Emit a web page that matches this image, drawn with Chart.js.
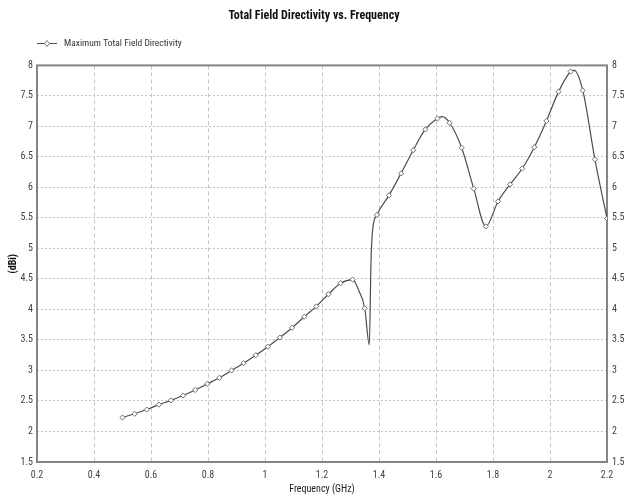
<!DOCTYPE html>
<html>
<head>
<meta charset="utf-8">
<script src="https://cdn.jsdelivr.net/npm/chart.js@4/dist/chart.umd.min.js"></script>
<style>
  html, body { margin: 0; padding: 0; background: #fff; }
  #wrap { width: 628px; height: 496px; position: relative; }
</style>
</head>
<body>
<div id="wrap"><canvas id="chart" width="628" height="496"></canvas></div>
<script>
const chartTitle = 'Total Field Directivity vs. Frequency';
const seriesName = 'Maximum Total Field Directivity';
const xTitle = 'Frequency (GHz)';
const yTitle = '(dBi)';

const xTicks = [0.2, 0.4, 0.6, 0.8, 1, 1.2, 1.4, 1.6, 1.8, 2, 2.2];
const yTicks = [1.5, 2, 2.5, 3, 3.5, 4, 4.5, 5, 5.5, 6, 6.5, 7, 7.5, 8];

// marked sweep points (GHz, dBi)
const markerFreqs = [
  0.5, 0.5425, 0.585, 0.6275, 0.67, 0.7125, 0.755, 0.7975, 0.84, 0.8825,
  0.925, 0.9675, 1.01, 1.0525, 1.095, 1.1375, 1.18, 1.2225, 1.265, 1.3075,
  1.35, 1.3925, 1.435, 1.4775, 1.52, 1.5625, 1.605, 1.6475, 1.69, 1.7325,
  1.775, 1.8175, 1.86, 1.9025, 1.945, 1.9875, 2.03, 2.0725, 2.115, 2.1575, 2.2
];
const markerValues = [
  2.23, 2.29, 2.36, 2.44, 2.51, 2.59, 2.68, 2.78, 2.88, 3.0,
  3.12, 3.25, 3.39, 3.54, 3.7, 3.88, 4.05, 4.25, 4.43, 4.49,
  4.02, 5.55, 5.87, 6.23, 6.61, 6.95, 7.13, 7.06, 6.65, 5.98,
  5.36, 5.77, 6.05, 6.31, 6.66, 7.09, 7.57, 7.9, 7.59, 6.46, 5.49
];
// extra samples of the curve that carry no marker (notch and rounded peaks)
const sweepFreqs = [1.33, 1.366, 1.372, 1.3775, 1.622, 2.085];
const sweepValues = [4.3, 3.42, 4.8, 5.3, 7.16, 7.92];

const FONT = "Roboto, 'Open Sans', 'DejaVu Sans Condensed', sans-serif";
const LINE = '#4d4d4d';
const MARK = '#707070';
const GRID = '#c4c4c4';
const FRAME = '#858585';

const points = markerFreqs.map((f, i) => ({ x: f, y: markerValues[i], marked: true }))
  .concat(sweepFreqs.map((f, i) => ({ x: f, y: sweepValues[i], marked: false })))
  .sort((a, b) => a.x - b.x);

// line-with-diamond swatch for the key
function keySwatch() {
  const c = document.createElement('canvas');
  c.width = 20; c.height = 9;
  const g = c.getContext('2d');
  g.strokeStyle = LINE; g.lineWidth = 1;
  g.beginPath(); g.moveTo(0, 4.5); g.lineTo(20, 4.5); g.stroke();
  g.fillStyle = '#fff'; g.strokeStyle = MARK;
  g.beginPath(); g.moveTo(10, 1.5); g.lineTo(12.5, 4.5); g.lineTo(10, 7.5); g.lineTo(7.5, 4.5); g.closePath();
  g.fill(); g.stroke();
  return c;
}

const seriesKey = {
  id: 'seriesKey',
  afterDraw(chart) {
    const ctx = chart.ctx;
    const ds = chart.data.datasets[0];
    ctx.save();
    ctx.drawImage(keySwatch(), 37, 39);
    ctx.font = 'condensed 9.5px ' + FONT;
    ctx.fillStyle = '#333';
    ctx.textBaseline = 'middle';
    ctx.textAlign = 'left';
    ctx.fillText(ds.label, 64, 44);
    ctx.restore();
  }
};

const chartFrame = {
  id: 'chartFrame',
  beforeDatasetsDraw(chart) {
    const { ctx, chartArea: a } = chart;
    ctx.save();
    ctx.strokeStyle = FRAME;
    ctx.lineWidth = 2;
    ctx.strokeRect(a.left, a.top, a.right - a.left, a.bottom - a.top);
    ctx.restore();
  }
};

// 'condensed' rides in the weight slot of the canvas font shorthand
const tickFont = { family: FONT, size: 10, weight: 'condensed' };

new Chart(document.getElementById('chart'), {
  type: 'line',
  data: {
    datasets: [{
      label: seriesName,
      data: points,
      borderColor: LINE,
      borderWidth: 1.2,
      cubicInterpolationMode: 'monotone',
      pointStyle: 'rectRot',
      pointRadius: ctx => (ctx.raw && ctx.raw.marked ? 2.6 : 0),
      pointHoverRadius: 0,
      pointBackgroundColor: '#fff',
      pointBorderColor: MARK,
      pointBorderWidth: 1,
      fill: false
    }]
  },
  options: {
    responsive: false,
    animation: false,
    events: [],
    layout: { padding: 0 },
    plugins: {
      legend: { display: false },
      tooltip: { enabled: false },
      title: {
        display: true,
        text: chartTitle,
        color: '#111',
        font: { family: FONT, size: 12, weight: 'condensed bold' },
        padding: { top: 9, bottom: 42 }
      }
    },
    scales: {
      x: {
        type: 'linear',
        min: 0.2,
        max: 2.2,
        afterBuildTicks: s => { s.ticks = xTicks.map(v => ({ value: v })); },
        afterFit: s => { s.height = 34; },
        ticks: { font: tickFont, color: '#444', padding: 7, maxRotation: 0, autoSkip: false, callback: v => String(v) },
        grid: { color: GRID, lineWidth: 1, drawTicks: false },
        border: { display: false, dash: [4, 3] },
        title: { display: true, text: xTitle, color: '#222', font: tickFont, padding: { top: 0, bottom: 1 } }
      },
      y: {
        type: 'linear',
        position: 'left',
        min: 1.5,
        max: 8,
        afterBuildTicks: s => { s.ticks = yTicks.map(v => ({ value: v })); },
        afterFit: s => { s.width = 37; },
        ticks: { font: tickFont, color: '#444', padding: 4, autoSkip: false, callback: v => String(v) },
        grid: { color: GRID, lineWidth: 1, drawTicks: false },
        border: { display: false, dash: [2, 2] },
        title: { display: true, text: yTitle, color: '#111', font: { family: FONT, size: 10, weight: 'condensed bold' }, padding: { top: 7, bottom: 0 } }
      },
      y2: {
        type: 'linear',
        position: 'right',
        min: 1.5,
        max: 8,
        afterBuildTicks: s => { s.ticks = yTicks.map(v => ({ value: v })); },
        afterFit: s => { s.width = 21; },
        ticks: { font: tickFont, color: '#444', padding: 5, autoSkip: false, callback: v => String(v) },
        grid: { display: false, drawTicks: false },
        border: { display: false }
      }
    }
  },
  plugins: [chartFrame, seriesKey]
});
</script>
</body>
</html>
